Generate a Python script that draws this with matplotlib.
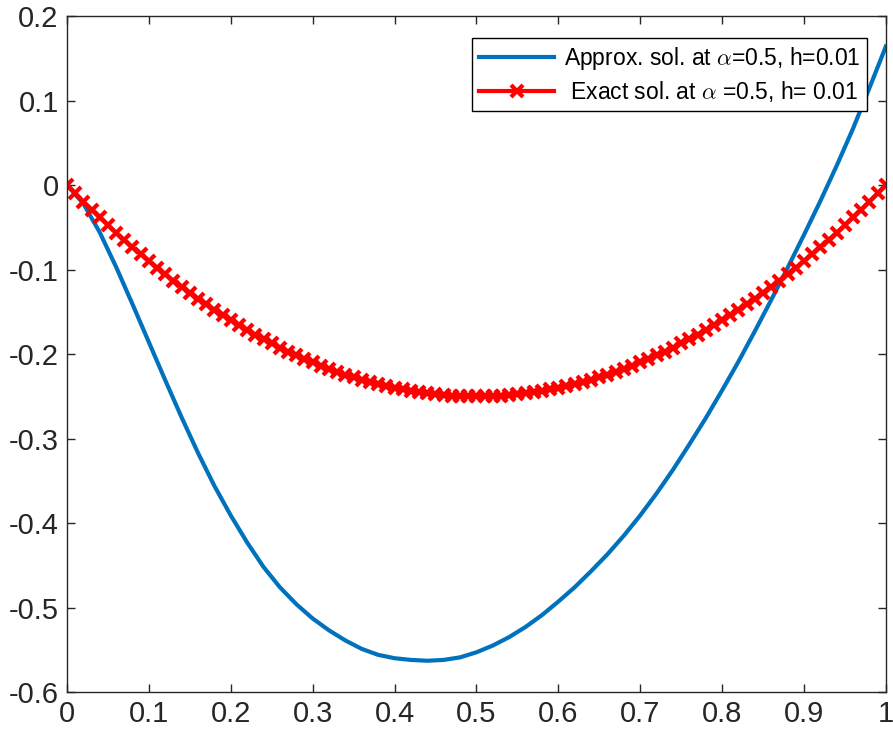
import matplotlib
matplotlib.use("Agg")
import matplotlib.pyplot as plt
from matplotlib import font_manager
import numpy as np

# font: narrow Arial-like if available (the reference text is tall and narrow)
names = {f.name for f in font_manager.fontManager.ttflist}
fam = "Liberation Sans Narrow" if "Liberation Sans Narrow" in names else "Liberation Sans"
plt.rcParams["font.family"] = [fam, "DejaVu Sans"]
plt.rcParams["mathtext.fontset"] = "cm"
plt.rcParams["axes.unicode_minus"] = False

# Approximate solution (x step 0.02)
approx_x = [0.00, 0.02, 0.04, 0.06, 0.08, 0.10, 0.12, 0.14, 0.16, 0.18,
            0.20, 0.22, 0.24, 0.26, 0.28, 0.30, 0.32, 0.34, 0.36, 0.38,
            0.40, 0.42, 0.44, 0.46, 0.48, 0.50, 0.52, 0.54, 0.56, 0.58,
            0.60, 0.62, 0.64, 0.66, 0.68, 0.70, 0.72, 0.74, 0.76, 0.78,
            0.80, 0.82, 0.84, 0.86, 0.88, 0.90, 0.92, 0.94, 0.96, 0.98, 1.00]
approx_y = [0.000, -0.022, -0.056, -0.097, -0.141, -0.186, -0.231, -0.275, -0.317, -0.356,
            -0.391, -0.423, -0.452, -0.476, -0.496, -0.513, -0.527, -0.539, -0.549, -0.556,
            -0.560, -0.562, -0.563, -0.562, -0.559, -0.553, -0.545, -0.535, -0.523, -0.509,
            -0.493, -0.476, -0.457, -0.437, -0.415, -0.391, -0.365, -0.337, -0.307, -0.276,
            -0.243, -0.209, -0.173, -0.136, -0.098, -0.059, -0.019, 0.023, 0.067, 0.115, 0.164]

# Exact solution on the h=0.01 grid (first half, curve is symmetric about 0.5)
exact_half = [0.0, -0.0099, -0.0196, -0.0291, -0.0384, -0.0475, -0.0564, -0.0651, -0.0736, -0.0819,
              -0.0900, -0.0979, -0.1056, -0.1131, -0.1204, -0.1275, -0.1344, -0.1411, -0.1476, -0.1539,
              -0.1600, -0.1659, -0.1716, -0.1771, -0.1824, -0.1875, -0.1924, -0.1971, -0.2016, -0.2059,
              -0.2100, -0.2139, -0.2176, -0.2211, -0.2244, -0.2275, -0.2304, -0.2331, -0.2356, -0.2379,
              -0.2400, -0.2419, -0.2436, -0.2451, -0.2464, -0.2475, -0.2484, -0.2491, -0.2496, -0.2499,
              -0.2500]
exact_y = exact_half + exact_half[-2::-1]
exact_x = np.linspace(0, 1, len(exact_y))

xticks = [0, 0.1, 0.2, 0.3, 0.4, 0.5, 0.6, 0.7, 0.8, 0.9, 1]
yticks = [-0.6, -0.5, -0.4, -0.3, -0.2, -0.1, 0, 0.1, 0.2]

fig = plt.figure(figsize=(8.93, 7.38), dpi=100)
ax = fig.add_axes([0.075, 0.0623, 0.917, 0.916])

ax.plot(approx_x, approx_y, color="#0072BD", lw=3.0, solid_joinstyle="round",
        label=r"Approx. sol. at $\alpha$=0.5, h=0.01")
ax.plot(exact_x, exact_y, color="red", lw=3.0, marker="x", ms=9, mew=3,
        label=r" Exact sol. at $\alpha$ =0.5, h= 0.01")

ax.set_xlim(0, 1)
ax.set_ylim(-0.6, 0.2)
ax.set_xticks(xticks)
ax.set_yticks(yticks)
ax.set_xticklabels(["%g" % v for v in xticks])
ax.set_yticklabels(["%g" % v for v in yticks])

axcol = "#262626"
for s in ax.spines.values():
    s.set_color(axcol)
    s.set_linewidth(1.0)
ax.tick_params(direction="in", length=6, width=1, color=axcol, labelcolor=axcol,
               labelsize=21, top=True, right=True, pad=6)

leg = ax.legend(loc="upper right", bbox_to_anchor=(867 / 893, 700 / 738),
                bbox_transform=fig.transFigure, fontsize=16.5, fancybox=False,
                edgecolor="black", framealpha=1, borderaxespad=0, borderpad=0.3,
                handlelength=3.3, handletextpad=0.4, labelspacing=0.3, numpoints=1)
leg.get_frame().set_linewidth(1.0)

fig.savefig("out.png", dpi=100)
